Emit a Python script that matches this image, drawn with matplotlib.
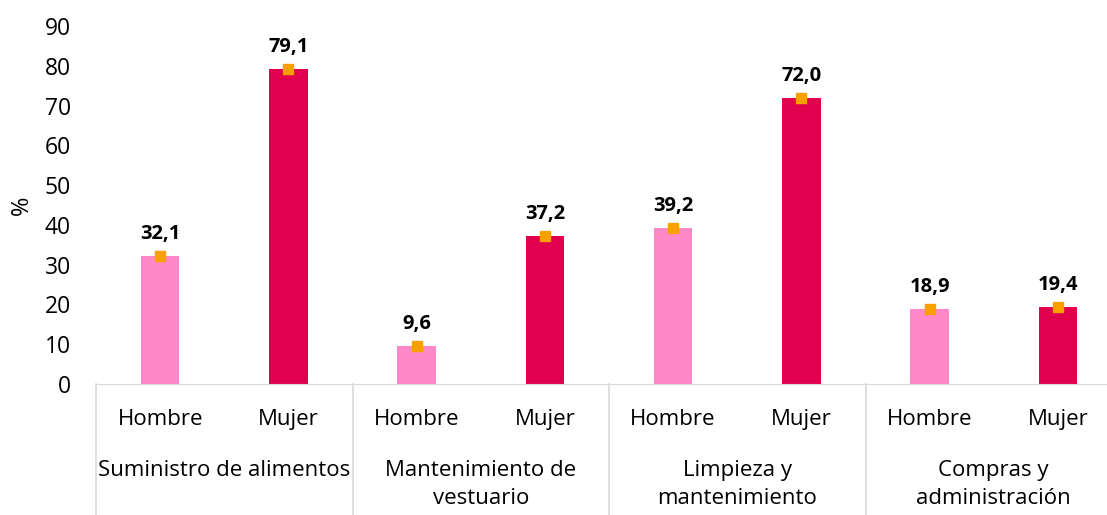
import numpy as np
import matplotlib.pyplot as plt

plt.rcParams['font.family'] = ['Open Sans', 'DejaVu Sans']

categories = ["Suministro de alimentos", "Mantenimiento de\nvestuario",
              "Limpieza y\nmantenimiento", "Compras y\nadministración"]
sexes = ["Hombre", "Mujer"]
hombre = [32.1, 9.6, 39.2, 18.9]
mujer = [79.1, 37.2, 72.0, 19.4]

values = []
for h, m in zip(hombre, mujer):
    values += [h, m]
x = np.arange(len(values))
colors = ["#FF88C8", "#E0004D"] * len(categories)

fig = plt.figure(figsize=(11.07, 5.15), dpi=100)
ax = fig.add_axes([96 / 1107, 131 / 515, 1026 / 1107, 358 / 515])

ax.bar(x, values, width=0.3, color=colors, zorder=2)
ax.scatter(x, values, marker="s", s=60, color="#F7A000", zorder=3)
for xi, v in zip(x, values):
    ax.text(xi, v + 3.0, f"{v:.1f}".replace(".", ","), ha="center", va="bottom",
            fontsize=14.5, fontweight="bold")

ax.set_xlim(-0.5, len(values) - 0.5)
ax.set_ylim(0, 90)
ax.set_yticks(range(0, 91, 10))
ax.set_xticks([])
ax.tick_params(axis="y", length=0, labelsize=16.5, pad=18)
ax.set_ylabel("%", fontsize=17, labelpad=8)
for s in ["top", "right", "left"]:
    ax.spines[s].set_visible(False)
ax.spines["bottom"].set_color("#D9D9D9")

tr = ax.get_xaxis_transform()
for xi in x:
    ax.text(xi, -0.10, sexes[xi % 2], transform=tr, ha="center", va="center", fontsize=16)
for i, cat in enumerate(categories):
    ax.text(2 * i + 0.5, -0.212, cat, transform=tr, ha="center", va="top",
            fontsize=16, linespacing=1.45)
for b in np.arange(-0.5, len(values), 2):
    ax.plot([b, b], [0, -0.4], transform=tr, color="#D9D9D9", lw=1.2, clip_on=False)

fig.savefig("out.png", dpi=100)
